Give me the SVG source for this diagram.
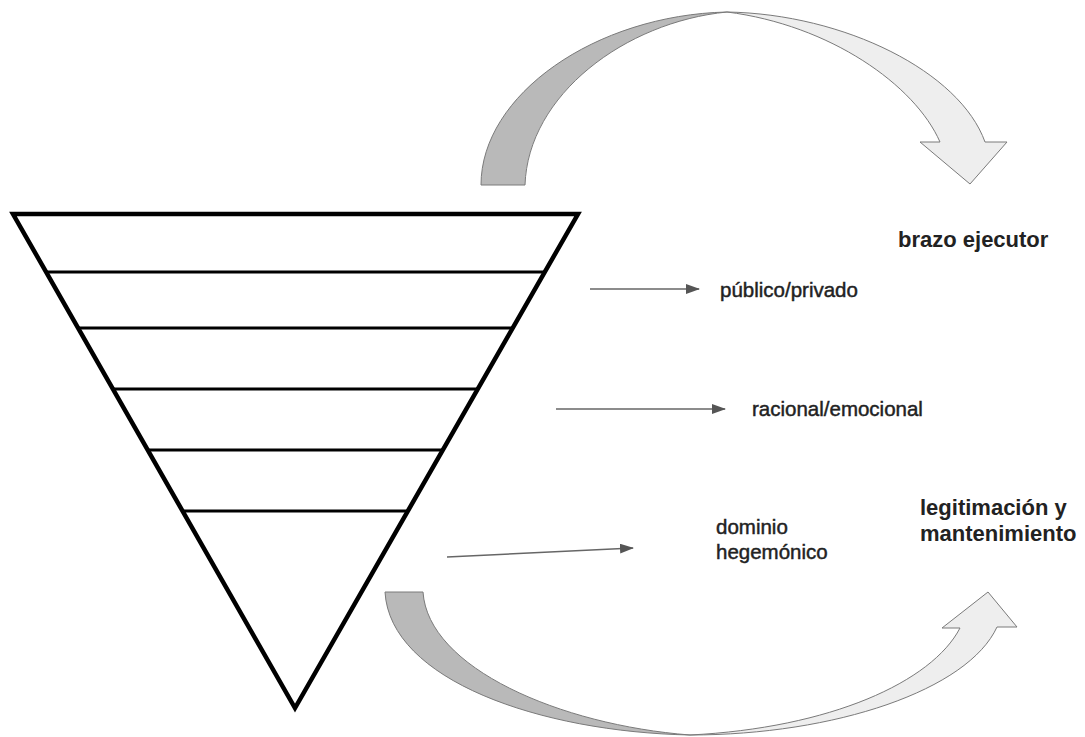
<svg xmlns="http://www.w3.org/2000/svg" width="1085" height="737" viewBox="0 0 1085 737">
<defs>
<style>
.tri{fill:#fff;stroke:#000;stroke-width:4.5;stroke-linejoin:miter}
.band{stroke:#000;stroke-width:3}
.back{fill:#b9b9b9;stroke:#7a7a7a;stroke-width:1}
.front{fill:#eeeeee;stroke:#7a7a7a;stroke-width:1}
.conn{stroke:#666;stroke-width:1.6;fill:none;marker-end:url(#ah)}
.lbl{font-family:"Liberation Sans",Arial,sans-serif;font-size:20.5px;fill:#222;stroke:#222;stroke-width:0.45}
.hdr{font-family:"Liberation Sans",Arial,sans-serif;font-size:22px;font-weight:bold;fill:#222}
</style>
<marker id="ah" markerWidth="14" markerHeight="10" refX="13" refY="5" orient="auto" markerUnits="userSpaceOnUse">
<path d="M0,0 L14,5 L0,10 Z" fill="#555"/>
</marker>
</defs>
<rect width="1085" height="737" fill="#fff"/>

<g id="pyramid">
<polygon class="tri" points="13,214 578,214 295,708"/>
<line class="band" x1="46" y1="272" x2="545" y2="272"/>
<line class="band" x1="78" y1="328" x2="513" y2="328"/>
<line class="band" x1="113" y1="389" x2="478" y2="389"/>
<line class="band" x1="148" y1="450" x2="443" y2="450"/>
<line class="band" x1="183" y1="511" x2="408" y2="511"/>
</g>

<g id="top-curved-arrow">
<path class="back" d="M481,185 C481,95 595,15 727,12 C625,22 528,95 525,185 Z"/>
<path class="front" d="M727,12 C845,14 960,72 985,142 L1007,142 L970,184 L920,142 L940,142 C915,85 830,25 727,12 Z"/>
</g>

<g id="bottom-curved-arrow">
<path class="back" d="M385,592 L423,592 C428,668 560,725 690,735 C540,732 390,680 385,592 Z"/>
<path class="front" d="M690,735 C835,735 968,690 997,627 L1017,627 L988,592 L942,628 L960,628 C932,682 830,728 690,735 Z"/>
</g>

<g id="connectors">
<line class="conn" x1="590" y1="289" x2="699" y2="289"/>
<line class="conn" x1="556" y1="409" x2="725" y2="409"/>
<line class="conn" x1="447" y1="557" x2="633" y2="548"/>
</g>

<g id="label-publico"><text class="lbl" x="720" y="297">público/privado</text></g>
<g id="label-racional"><text class="lbl" x="752" y="416">racional/emocional</text></g>
<g id="label-dominio"><text class="lbl" x="716" y="534">dominio</text><text class="lbl" x="716" y="559">hegemónico</text></g>
<g id="label-brazo"><text class="hdr" x="898" y="247">brazo ejecutor</text></g>
<g id="label-legit"><text class="hdr" x="920" y="515">legitimación y</text><text class="hdr" x="920" y="541">mantenimiento</text></g>
</svg>
